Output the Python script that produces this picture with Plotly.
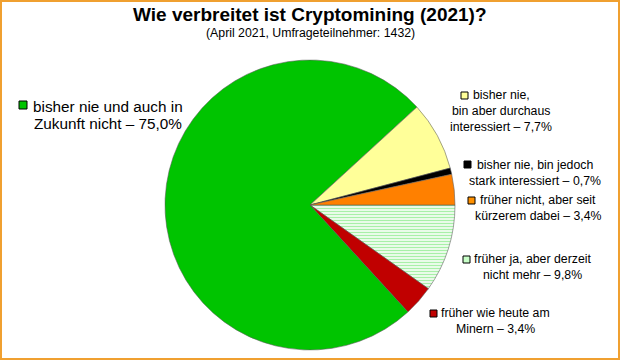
import plotly.graph_objects as go

W, H = 620, 360

# Data (clockwise order, first slice starts at 3 o'clock)
labels = [
    "früher ja, aber derzeit nicht mehr",
    "früher wie heute am Minern",
    "bisher nie und auch in Zukunft nicht",
    "bisher nie, bin aber durchaus interessiert",
    "bisher nie, bin jedoch stark interessiert",
    "früher nicht, aber seit kürzerem dabei",
]
values = [9.8, 3.4, 75.0, 7.7, 0.7, 3.4]
label_lines = [
    ["früher ja, aber derzeit", "nicht mehr – 9,8%"],
    ["früher wie heute am", "Minern – 3,4%"],
    ["bisher nie und auch in", "Zukunft nicht – 75,0%"],
    ["bisher nie,", "bin aber durchaus", "interessiert – 7,7%"],
    ["bisher nie, bin jedoch", "stark interessiert – 0,7%"],
    ["früher nicht, aber seit", "kürzerem dabei – 3,4%"],
]
colors = ["#FFFFFF", "#C00000", "#00C400", "#FFFF99", "#000000", "#FF8000"]
patterns = ["-", "", "", "", "", ""]

title = "Wie verbreitet ist Cryptomining (2021)?"
subtitle = "(April 2021, Umfrageteilnehmer: 1432)"

FONT = "Liberation Sans, Arial, sans-serif"

def px(x):
    return x / W

def py(y):
    return 1 - y / H

fig = go.Figure(go.Pie(
    labels=labels,
    values=values,
    sort=False,
    direction="clockwise",
    rotation=90,
    textinfo="none",
    hoverinfo="label+percent",
    showlegend=False,
    marker=dict(
        colors=colors,
        line=dict(color="rgba(90,90,90,0.7)", width=0.8),
        pattern=dict(shape=patterns, fgcolor="#A8F0A8", size=3, solidity=0.5, fillmode="replace"),
    ),
    domain=dict(x=[px(165), px(455)], y=[py(350), py(60)]),
))

# label layout: (center x, first line center y, line step, font size, square box)
label_pos = [
    (532, 259, 16, 12.3, (463, 256, 470, 263)),
    (495, 313, 16, 12.3, (430, 310, 437, 317)),
    (108, 106, 17, 15.3, (19, 101, 27, 109)),
    (501, 95, 16, 12.3, (461, 92, 468, 99)),
    (535, 165, 16, 12.3, (464, 161, 471, 168)),
    (538, 200, 16, 12.3, (468, 197, 475, 204)),
]
square_colors = ["#C8FFC8", "#C00000", "#00C400", "#FFFF99", "#000000", "#FF9000"]

annotations = [
    dict(text=f"<b>{title}</b>", x=px(310), y=py(15), xref="paper", yref="paper",
         xanchor="center", yanchor="middle", showarrow=False,
         font=dict(family=FONT, size=19, color="black")),
    dict(text=subtitle, x=px(310), y=py(33), xref="paper", yref="paper",
         xanchor="center", yanchor="middle", showarrow=False,
         font=dict(family=FONT, size=12.3, color="black")),
]
shapes = []
for lines, (cx, cy, step, fs, sq), sc in zip(label_lines, label_pos, square_colors):
    for i, line in enumerate(lines):
        annotations.append(dict(text=line, x=px(cx), y=py(cy + i * step), xref="paper", yref="paper",
                                xanchor="center", yanchor="middle", align="center",
                                showarrow=False, font=dict(family=FONT, size=fs, color="black")))
    shapes.append(dict(type="rect", xref="paper", yref="paper",
                       x0=px(sq[0]), x1=px(sq[2]), y0=py(sq[3]), y1=py(sq[1]),
                       fillcolor=sc, line=dict(color="black", width=1)))

# orange frame
shapes.append(dict(type="rect", xref="paper", yref="paper",
                   x0=px(1), x1=px(W - 1), y0=py(H - 1), y1=py(1),
                   line=dict(color="#F0A030", width=2), fillcolor="rgba(0,0,0,0)"))

fig.update_layout(
    width=W, height=H,
    margin=dict(l=0, r=0, t=0, b=0),
    paper_bgcolor="white",
    plot_bgcolor="white",
    annotations=annotations,
    shapes=shapes,
    font=dict(family=FONT),
)

fig.write_html("out.html", config={"displayModeBar": False},
               post_script="document.body.style.margin='0';document.body.style.overflow='hidden';")
